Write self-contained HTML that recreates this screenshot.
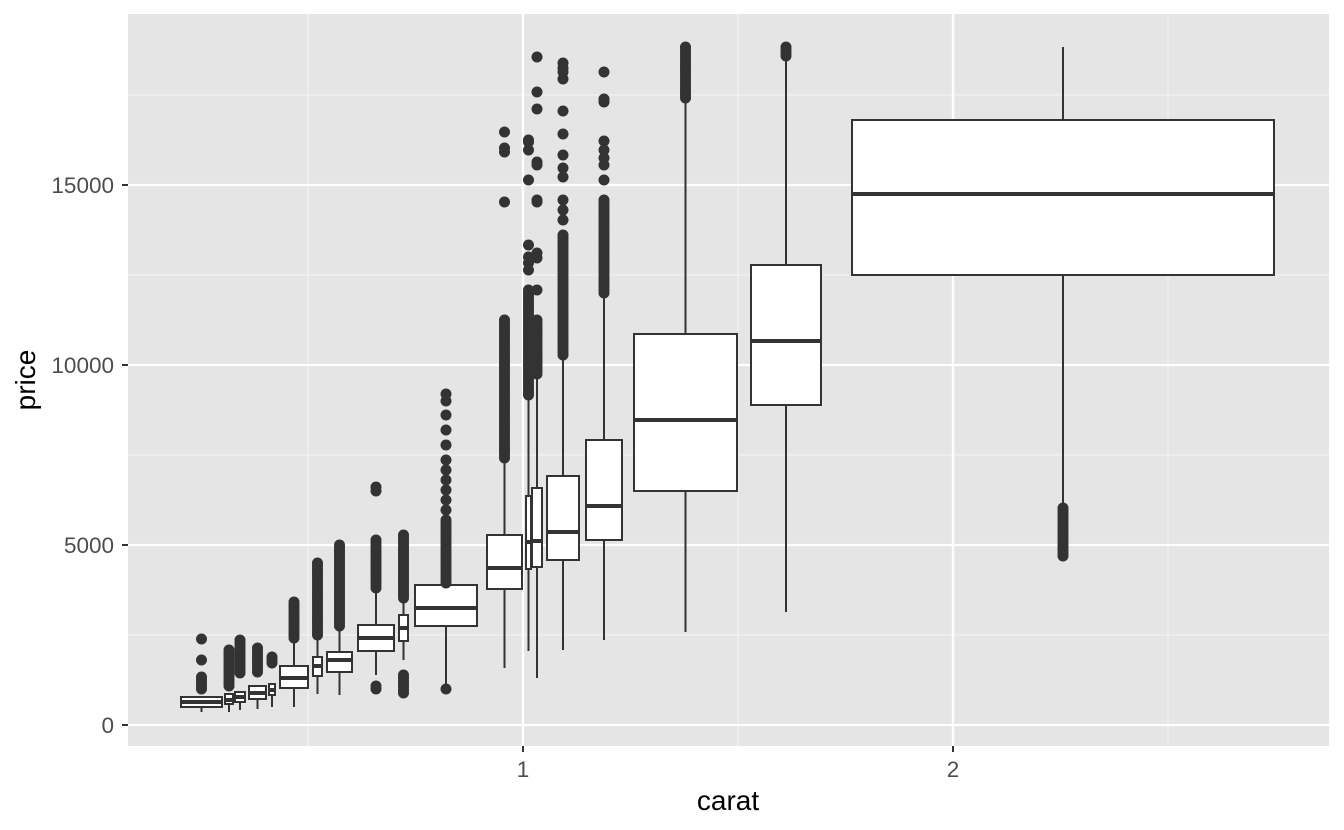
<!DOCTYPE html>
<html><head><meta charset="utf-8"><style>
body{margin:0;background:#fff}
svg{display:block}
text{font-family:"Liberation Sans",sans-serif}
</style></head><body>
<svg id="s" width="1344" height="830" xmlns="http://www.w3.org/2000/svg">
<rect x="128" y="14" width="1201" height="732" fill="#e5e5e5"/>
<g stroke="#f2f2f2" stroke-width="1.2">
<line x1="128" x2="1329" y1="635" y2="635"/><line x1="128" x2="1329" y1="455" y2="455"/><line x1="128" x2="1329" y1="275" y2="275"/><line x1="128" x2="1329" y1="95" y2="95"/>
<line y1="14" y2="746" x1="308" x2="308"/><line y1="14" y2="746" x1="738" x2="738"/><line y1="14" y2="746" x1="1168" x2="1168"/>
</g>
<g stroke="#fff" stroke-width="2.3">
<line x1="128" x2="1329" y1="725" y2="725"/><line x1="128" x2="1329" y1="545" y2="545"/><line x1="128" x2="1329" y1="365" y2="365"/><line x1="128" x2="1329" y1="185" y2="185"/>
<line y1="14" y2="746" x1="523" x2="523"/><line y1="14" y2="746" x1="953" x2="953"/>
</g>
<g stroke="#333" stroke-width="2">
<line x1="122" x2="128" y1="725" y2="725"/><line x1="122" x2="128" y1="545" y2="545"/><line x1="122" x2="128" y1="365" y2="365"/><line x1="122" x2="128" y1="185" y2="185"/>
<line y1="746" y2="752" x1="523" x2="523"/><line y1="746" y2="752" x1="953" x2="953"/>
</g>
<g fill="#4d4d4d" font-size="22.5" text-anchor="end">
<text x="114" y="733">0</text><text x="114" y="553">5000</text><text x="114" y="373">10000</text><text x="114" y="193">15000</text>
</g>
<g fill="#4d4d4d" font-size="22.5" text-anchor="middle">
<text x="523" y="777">1</text><text x="953" y="777">2</text>
</g>
<text x="728" y="810" font-size="28" text-anchor="middle">carat</text>
<text transform="translate(35,380) rotate(-90)" font-size="28" text-anchor="middle">price</text>
<g id="g"></g>
</svg>
<script>
var B=[
[181,222,697,702,707,697,712,[[677,689]],[639,660]],
[225,233,694,700,704,694,712,[[650,688]],[]],
[235,245,692,697,702,692,710,[[640,675]],[]],
[249,266,686,693,699,686,709,[[648,672]],[]],
[269,275,684,690,695,684,707,[[657,665]],[]],
[280,308,666,678,688,640,707,[[602,638]],[]],
[313,322,657,666,676,637,694,[[563,637]],[]],
[327,352,652,660,672,628,695,[[545,628]],[]],
[358,394,625,638,651,590,675,[[540,590],[686,690]],[487,491]],
[399,408,615,628,641,600,660,[[535,600],[675,695]],[]],
[415,477,585,608,626,520,689,[[520,585]],[394,401,415,430,445,460,470,480,490,500,510,689]],
[487,522,535,568,589,460,668,[[320,460]],[132,148,152,202]],
[526,531,496,542,569,395,651,[[290,395]],[140,142,150,180,245,257,263,270]],
[532,542,488,541,567,375,678,[[320,375]],[57,92,109,162,165,200,202,253,258,290]],
[547,579,476,532,560,355,650,[[235,355]],[63,68,72,79,111,134,155,168,177,200,210,220]],
[586,622,440,506,540,293,640,[[200,293]],[72,99,102,141,150,158,165,180]],
[634,737,334,420,491,100,632,[[47,100]],[]],
[751,821,265,341,405,58,612,[[47,58]],[]],
[852,1274,120,194,275,47,508,[[508,557]],[]]
];
var h='';
B.forEach(function(b){
 var cx=(b[0]+b[1])/2;
 h+='<line x1="'+cx+'" x2="'+cx+'" y1="'+b[5]+'" y2="'+b[6]+'" stroke="#333" stroke-width="2"/>';
 h+='<rect x="'+b[0]+'" y="'+b[2]+'" width="'+(b[1]-b[0])+'" height="'+(b[4]-b[2])+'" fill="#fff" stroke="#333" stroke-width="2"/>';
 h+='<line x1="'+b[0]+'" x2="'+b[1]+'" y1="'+b[3]+'" y2="'+b[3]+'" stroke="#333" stroke-width="4"/>';
 b[7].forEach(function(r){for(var y=r[0];y<=r[1];y+=3)h+='<circle cx="'+cx+'" cy="'+y+'" r="5.5" fill="#333"/>';});
 b[8].forEach(function(y){h+='<circle cx="'+cx+'" cy="'+y+'" r="5.5" fill="#333"/>';});
});
document.getElementById('g').innerHTML=h;
</script>
</body></html>
